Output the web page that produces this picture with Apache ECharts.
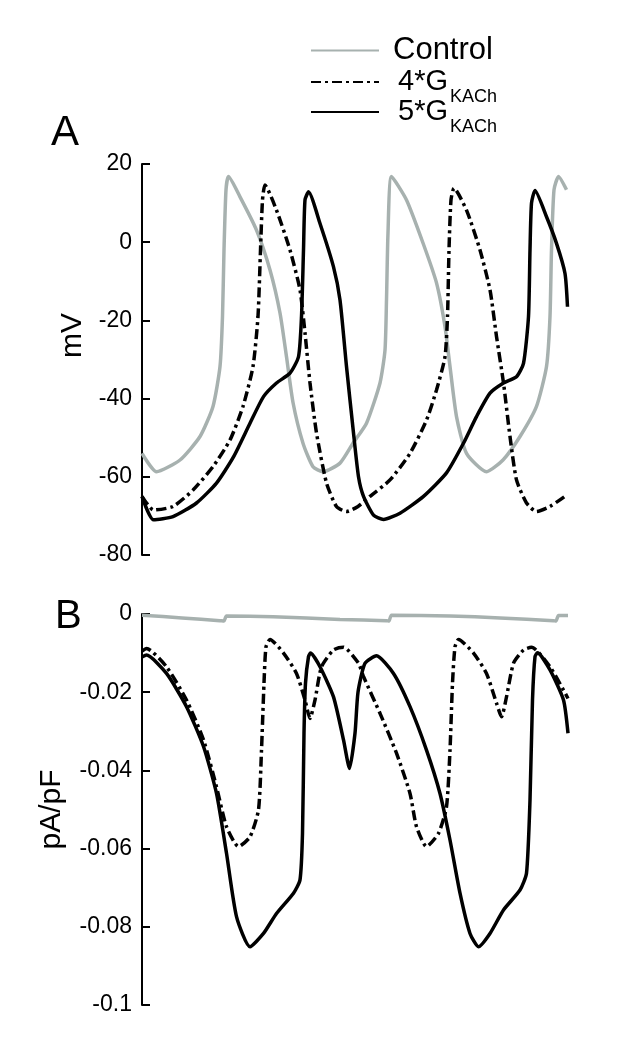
<!DOCTYPE html>
<html>
<head>
<meta charset="utf-8">
<script src="https://cdn.jsdelivr.net/npm/echarts@6/dist/echarts.min.js"></script>
<style>
html,body{margin:0;padding:0;background:#fff;}
#chart{width:622px;height:1050px;}
</style>
</head>
<body>
<div id="chart"></div>
<script>
// ---- data (time in ms) ----
const seriesNames = ['Control', '4*G_KACh', '5*G_KACh'];

// Panel A: membrane potential (mV)
const ctrlTA = [0,29,76,116,142,156,161,164,168,173,196,229,256,276,289,302,322,342,362,396,422,449,476,486,489,492,499,529,562,589,606,616,629,649,689,722,756,789,809,816,819,824,833,849];
const ctrlV  = [-54,-58.7,-55.7,-49.7,-42,-31.8,-19,-2,13.4,16.8,11.6,3.1,-7.1,-18.1,-29.3,-41,-51.4,-57.4,-58.7,-56.5,-51.4,-46.3,-36,-27.6,-14.8,2.4,16.8,10.8,-0.2,-10.4,-21.6,-31.8,-44.6,-54,-58.7,-55.7,-49.7,-42,-31.8,-19,-2,13.4,16.8,13.4];

const g4TA = [0,23,62,102,142,176,202,222,232,237,241,246,269,296,316,326,336,349,369,389,409,432,456,496,536,569,589,606,611,614,618,624,649,676,696,709,723,736,749,769,789,816,849];
const g4V  = [-65,-68.5,-67.6,-63.4,-57.4,-50.6,-42,-31.8,-19,-2,10.8,14.6,8.2,-2,-12.2,-23.2,-36,-48.8,-61.6,-67.6,-68.9,-67.6,-65,-60.8,-54,-45.5,-37.8,-29.3,-19,-2,10.8,13.8,8.2,-2,-12.2,-24.1,-36,-49.7,-60.8,-66.7,-68.9,-67.6,-64.7];

const g5TA = [0,23,62,109,149,183,216,243,269,296,313,319,323,326,333,356,383,396,409,423,433,443,463,483,516,563,609,643,669,696,723,749,763,773,776,779,786,809,829,846,851];
const g5V  = [-65,-71,-70.2,-66.7,-61.6,-54.9,-46.3,-39.5,-36,-33.5,-29.3,-19,-2,10.8,12.9,4.8,-6.3,-14.8,-31.8,-48.8,-60,-65,-69.8,-70.9,-69.3,-65,-59,-51.4,-44.6,-38.6,-36,-34.4,-31,-19,-2,10,13.2,6.5,-0.3,-8,-16.5];

// Panel B: I_KACh (pA/pF)
const ctrlTB = [0,80,156,164,169,262,396,489,494,499,616,716,823,828,833,852];
const ctrlI  = [-0.0003,-0.0010,-0.0017,-0.0018,-0.0005,-0.0007,-0.0014,-0.0017,-0.0018,-0.0003,-0.0005,-0.0010,-0.0017,-0.0018,-0.0004,-0.0004];

const g4TB = [0,9,49,89,123,149,169,193,216,233,239,244,248,256,283,309,326,336,346,359,383,403,433,443,476,509,536,549,569,593,609,616,621,626,633,663,689,709,719,729,743,763,779,816,852];
const g4I  = [-0.0095,-0.0088,-0.0135,-0.022,-0.0322,-0.0442,-0.0544,-0.0595,-0.057,-0.0501,-0.0348,-0.0177,-0.0084,-0.0065,-0.010,-0.0152,-0.022,-0.0267,-0.022,-0.0135,-0.0092,-0.0085,-0.0126,-0.016,-0.0254,-0.0356,-0.0459,-0.0544,-0.0595,-0.0561,-0.0493,-0.0348,-0.0177,-0.0084,-0.0065,-0.010,-0.0152,-0.0228,-0.0263,-0.0212,-0.0126,-0.0092,-0.0085,-0.0135,-0.0216];

const g5TB = [0,9,49,89,123,149,169,189,216,243,269,303,316,321,324,327,333,337,356,383,403,415,426,432,446,469,503,536,569,596,616,636,656,673,696,723,756,769,776,781,786,791,816,843,852];
const g5I  = [-0.011,-0.0105,-0.0152,-0.0237,-0.0339,-0.0459,-0.0612,-0.0774,-0.0851,-0.0817,-0.0766,-0.0714,-0.068,-0.0561,-0.0305,-0.0177,-0.0109,-0.010,-0.0135,-0.0212,-0.0322,-0.0395,-0.0305,-0.020,-0.0126,-0.0107,-0.0152,-0.0237,-0.0348,-0.0459,-0.0578,-0.0714,-0.0817,-0.0851,-0.0817,-0.0757,-0.0706,-0.0663,-0.0476,-0.022,-0.0109,-0.0099,-0.0143,-0.022,-0.0305];

const yTicksA = {min: -80, max: 20, interval: 20};
const yTicksB = {min: -0.1, max: 0, interval: 0.02};
const tMax = 852;

// ---- chart ----
const FONT = "'Liberation Sans', Arial, Helvetica, sans-serif";
const GRAY = '#a7b1af';
const DASHDOT = [10, 4, 3, 4];
const zip = (t, v) => t.map((x, i) => [x, v[i]]);

const styles = [
  {color: GRAY, width: 3.5, type: 'solid'},
  {color: '#000', width: 3.5, type: DASHDOT},
  {color: '#000', width: 3.5, type: 'solid'}
];

function mkSeries(name, idx, data, style) {
  return {
    name: name, type: 'line', xAxisIndex: idx, yAxisIndex: idx,
    data: data, symbol: 'none', showSymbol: false, smooth: 0.2,
    lineStyle: {color: style.color, width: style.width, type: style.type},
    itemStyle: {color: style.color},
    animation: false, silent: true
  };
}

const yAxisCommon = {
  type: 'value',
  axisLine: {show: true, lineStyle: {color: '#000', width: 2}},
  axisTick: {show: true, inside: true, length: 8, lineStyle: {color: '#000', width: 2}},
  splitLine: {show: false},
  axisLabel: {color: '#000', fontSize: 23, fontFamily: FONT, margin: 10},
  nameLocation: 'middle',
  nameTextStyle: {color: '#000', fontSize: 30, fontFamily: FONT}
};

const legendCommon = {
  orient: 'vertical', left: 310, itemWidth: 68, itemHeight: 14, padding: 0,
  selectedMode: false, itemGap: 0,
  itemStyle: {color: 'transparent', borderColor: 'transparent', borderWidth: 0, opacity: 0}
};
const subRich = {
  a: {fontSize: 29, lineHeight: 49, fontFamily: FONT, color: '#000', padding: [0, 0, 0, 14]},
  s: {fontSize: 18, lineHeight: 18, fontFamily: FONT, color: '#000', verticalAlign: 'bottom', padding: [0, 0, 0, 2]}
};

const option = {
  backgroundColor: '#fff',
  animation: false,
  title: [
    {text: 'A', left: 51, top: 112, padding: 0, textStyle: {fontSize: 42, fontWeight: 'normal', fontFamily: FONT, color: '#000'}},
    {text: 'B', left: 55, top: 597, padding: 0, textStyle: {fontSize: 40, fontWeight: 'normal', fontFamily: FONT, color: '#000'}}
  ],
  legend: [
    Object.assign({}, legendCommon, {top: 35, data: [seriesNames[0]],
      formatter: () => '{c|Control}',
      textStyle: {rich: {c: {fontSize: 31, lineHeight: 34, fontFamily: FONT, color: '#000', padding: [0, 0, 0, 9]}}}}),
    Object.assign({}, legendCommon, {top: 67.5, data: [seriesNames[1]],
      formatter: () => '{a|4*G}{s|KACh}', textStyle: {rich: subRich}}),
    Object.assign({}, legendCommon, {top: 97.5, data: [seriesNames[2]],
      formatter: () => '{a|5*G}{s|KACh}', textStyle: {rich: subRich}})
  ],
  grid: [
    {left: 142, top: 164, width: 426, height: 391},
    {left: 142, top: 614, width: 426, height: 391}
  ],
  xAxis: [
    {gridIndex: 0, type: 'value', min: 0, max: tMax, show: false},
    {gridIndex: 1, type: 'value', min: 0, max: tMax, show: false}
  ],
  yAxis: [
    Object.assign({}, yAxisCommon, {gridIndex: 0, min: yTicksA.min, max: yTicksA.max, interval: yTicksA.interval,
      name: 'mV', nameGap: 53,
      nameTextStyle: Object.assign({}, yAxisCommon.nameTextStyle, {padding: [0, 0, 0, 48]})}),
    Object.assign({}, yAxisCommon, {gridIndex: 1, min: yTicksB.min, max: yTicksB.max, interval: yTicksB.interval,
      name: 'pA/pF', nameGap: 75,
      axisLabel: Object.assign({}, yAxisCommon.axisLabel, {
        formatter: v => (Math.abs(v) < 1e-9 ? '0' : String(parseFloat(v.toFixed(2))))
      })})
  ],
  series: [
    mkSeries(seriesNames[0], 0, zip(ctrlTA, ctrlV), styles[0]),
    mkSeries(seriesNames[1], 0, zip(g4TA, g4V), styles[1]),
    mkSeries(seriesNames[2], 0, zip(g5TA, g5V), styles[2]),
    mkSeries(seriesNames[0], 1, zip(ctrlTB, ctrlI), styles[0]),
    mkSeries(seriesNames[1], 1, zip(g4TB, g4I), styles[1]),
    mkSeries(seriesNames[2], 1, zip(g5TB, g5I), styles[2])
  ]
};

const chart = echarts.init(document.getElementById('chart'), null, {renderer: 'canvas'});
chart.setOption(option);
</script>
</body>
</html>
